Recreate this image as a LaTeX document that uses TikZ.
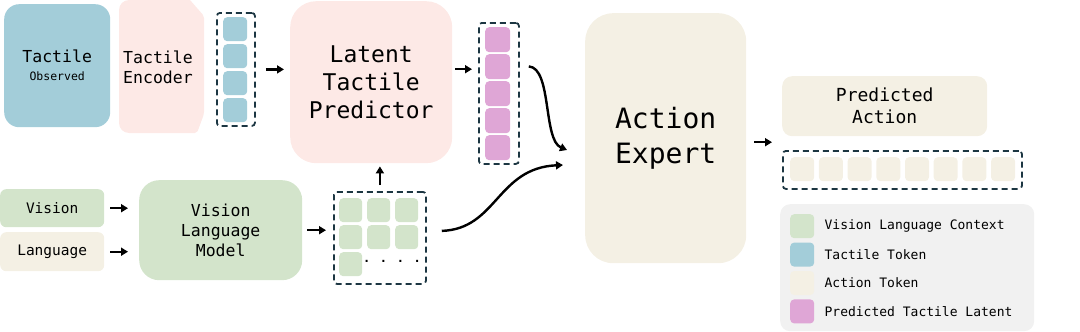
\documentclass[tikz,border=0pt]{standalone}
\usepackage{fontspec}
\setmainfont{DejaVu Sans Mono}
\usetikzlibrary{arrows.meta,positioning}
\definecolor{tacblue}{HTML}{A3CDD9}
\definecolor{predpink}{HTML}{FDE9E6}
\definecolor{latpink}{HTML}{DFA6D6}
\definecolor{vlgreen}{HTML}{D3E4CB}
\definecolor{actcream}{HTML}{F4F0E4}
\definecolor{legendgray}{HTML}{F1F1F1}
\definecolor{dashblue}{HTML}{1C3642}
\newcommand{\fs}[2]{\fontsize{#1pt}{#2pt}\selectfont}
\tikzset{
  block/.style={anchor=north west, inner sep=0pt, align=center},
  token/.style={anchor=north west, inner sep=0pt, rounded corners=4pt},
  tokenframe/.style={anchor=north west, inner sep=0pt, draw=dashblue, line width=1.8pt,
    rounded corners=3pt, dash pattern=on 6pt off 4pt},
  arr/.style={-{Triangle[length=7pt,width=8pt]}, line width=2.4pt},
}
\begin{document}
\begin{tikzpicture}[x=1pt,y=-1pt]
    \useasboundingbox (0,0) rectangle (1080,332);
    % Tactile input and encoder
    \node[block, fill=tacblue, rounded corners=15pt, minimum width=106pt, minimum height=123pt,
        font=\fs{16.5}{18}] (tac) at (4,4) {Tactile\\{\fs{11.5}{18}Observed}};
    \fill[predpink] (190,0) [rounded corners=2pt] -- (204,16) -- (204,114) -- (197,133)
        [rounded corners=10pt] -- (119,133) -- (119,0) [sharp corners] -- cycle;
    \node[align=left, inner sep=0pt, font=\fs{16.5}{20}] (enc) at (158,67) {Tactile\\Encoder};
    \node[tokenframe, minimum width=38pt, minimum height=113pt] (tcol) at (216,12) {};
    \foreach \i in {0,...,3} {
        \node[token, fill=tacblue, minimum width=24pt, minimum height=24pt] (t\i) at (223,17+27*\i) {};
    }
    % Latent tactile predictor
    \node[block, fill=predpink, rounded corners=26pt, minimum width=162pt, minimum height=162pt,
        font=\fs{23}{28}] (pred) at (290,1) {Latent\\Tactile\\Predictor};
    \draw[arr] ([xshift=10pt]tcol.east) -- ([xshift=-6pt]tcol.east -| pred.west);
    \node[tokenframe, minimum width=40pt, minimum height=141pt] (lcol) at (478,22) {};
    \foreach \i in {0,...,4} {
        \node[token, fill=latpink, minimum width=25pt, minimum height=25pt] (l\i) at (485,27+27*\i) {};
    }
    \draw[arr] ([shift={(3pt,13pt)}]pred.east) -- ([shift={(-6pt,13pt)}]pred.east -| lcol.west);
    % Vision language branch
    \node[block, fill=vlgreen, rounded corners=6pt, minimum width=104pt, minimum height=38pt,
        font=\fs{14.5}{17}] (vis) at (0,189) {Vision};
    \node[block, fill=actcream, rounded corners=6pt, minimum width=104pt, minimum height=39pt,
        font=\fs{14.5}{17}] (lang) at (0,232) {Language};
    \node[block, fill=vlgreen, rounded corners=20pt, minimum width=163pt, minimum height=100pt,
        font=\fs{16.5}{20}] (vlm) at (139,180) {Vision\\Language\\Model};
    \draw[arr] ([xshift=6pt]vis.east) -- ([xshift=-11pt]vis.east -| vlm.west);
    \draw[arr] ([xshift=6pt]lang.east) -- ([xshift=-11pt]lang.east -| vlm.west);
    \node[tokenframe, minimum width=92pt, minimum height=92pt] (grid) at (333,191) {};
    \foreach \r/\c in {0/0,0/1,0/2,1/0,1/1,1/2,2/0} {
        \node[token, fill=vlgreen, minimum width=23pt, minimum height=24pt] (g\r\c) at (339+28*\c,198+27*\r) {};
    }
    \node[inner sep=0pt, font=\fs{12}{14}\bfseries] (dots) at (392,261) {. . . .};
    \draw[arr] ([xshift=5pt]vlm.east) -- ([xshift=-7pt]vlm.east -| grid.west);
    \draw[arr] ([yshift=6pt]grid.north) -- ([yshift=-3pt]grid.north |- pred.south);
    % Action expert
    \node[block, fill=actcream, rounded corners=28pt, minimum width=161pt, minimum height=250pt,
        font=\fs{28}{35}] (expert) at (585,13) {Action\\Expert};
    \coordinate (inA) at (567,150);
    \coordinate (inB) at (563,165);
    \draw[arr] ([shift={(9pt,27pt)}]lcol.east) .. controls (552,68) and (543,140) .. (inA);
    \draw[arr] ([shift={(15pt,7pt)}]grid.east) .. controls (497,229) and (497,168) .. (inB);
    % Output
    \node[block, fill=actcream, rounded corners=10pt, minimum width=205pt, minimum height=60pt,
        font=\fs{18}{22}] (pa) at (782,76) {Predicted\\Action};
    \node[tokenframe, minimum width=239pt, minimum height=38pt] (arow) at (782,150) {};
    \foreach \i in {0,...,7} {
        \node[token, fill=actcream, minimum width=24pt, minimum height=24pt] (a\i) at (790+28.7*\i,157) {};
    }
    \draw[arr] ([shift={(8pt,-4pt)}]expert.east) -- ([shift={(-10pt,-4pt)}]expert.east -| pa.west);
    % Legend
    \node[block, fill=legendgray, rounded corners=10pt, minimum width=254pt, minimum height=127pt]
        (leg) at (780,204) {};
    \foreach \i/\col/\txt in {0/vlgreen/Vision Language Context, 1/tacblue/Tactile Token,
                              2/actcream/Action Token, 3/latpink/Predicted Tactile Latent} {
        \node[token, fill=\col, minimum width=24pt, minimum height=24pt] (sw\i) at (790,214+28.4*\i) {};
        \node[anchor=west, inner sep=0pt, font=\fs{13}{16}] (lab\i) at ([xshift=10pt]sw\i.east) {\txt};
    }
\end{tikzpicture}
\end{document}
